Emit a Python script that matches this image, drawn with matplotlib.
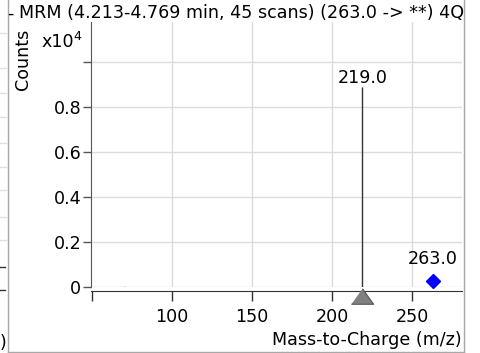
import matplotlib
matplotlib.use('Agg')
import matplotlib.pyplot as plt
from matplotlib.lines import Line2D
from matplotlib.patches import Rectangle

# spectrum data (counts in units of 1e4)
peak_mz = [70.0, 219.0]
peak_counts = [0.006, 0.89]
peak_labels = ['', '219.0']
precursor_mz = 263.0
precursor_counts = 0.027
precursor_label = '263.0'
product_mz = 219.0

title = '- MRM (4.213-4.769 min, 45 scans) (263.0 -> **) 4Q4'
x_ticks = [50, 100, 150, 200, 250]
x_tick_labels = ['', '100', '150', '200', '250']
y_ticks = [0, 0.2, 0.4, 0.6, 0.8, 1.0]
y_tick_labels = ['0', '0.2', '0.4', '0.6', '0.8', '']

W, H = 480, 353
FS = 12.6
plt.rcParams['font.family'] = ['DejaVu Sans']


def fx(px):
    return px / W


def fy(py):
    return 1 - py / H


fig = plt.figure(figsize=(W / 100, H / 100), dpi=100)
ax = fig.add_axes([fx(91), fy(287), fx(462 - 91), (287 - 22) / H])
ax.set_xlim(49.4, 281.2)
ax.set_ylim(0, 1.178)

# grid
for x in x_ticks[1:]:
    ax.axvline(x, color='#dcdcdc', lw=1, zorder=0)
for y in y_ticks:
    ax.axhline(y, color='#dcdcdc', lw=1, zorder=0)

# sticks
for mz, c, lab in zip(peak_mz, peak_counts, peak_labels):
    col = '#333333' if lab else '#aaaaaa'
    ax.vlines(mz, 0, c, color=col, lw=1, zorder=3)
    if lab:
        ax.annotate(lab, (mz, c), xytext=(0, 0), textcoords='offset points',
                    ha='center', va='bottom', fontsize=FS, color='black')

# precursor diamond
ax.plot(precursor_mz, precursor_counts, marker='D', markersize=7.5, color='#0000ff',
        ls='none', zorder=4, clip_on=False)
ax.annotate(precursor_label, (precursor_mz, precursor_counts), xytext=(0, 9),
            textcoords='offset points', ha='center', va='bottom', fontsize=FS)

# product triangle below axis
tri = [(-1, -0.7), (1, -0.7), (0, 0.7)]
ax.plot(product_mz, -0.038, marker=tri, markersize=16, markerfacecolor='#808080',
        markeredgecolor='#555555', markeredgewidth=0.8, ls='none', clip_on=False, zorder=5)

# axes styling
for s in ['top', 'right']:
    ax.spines[s].set_visible(False)
ax.spines['left'].set_color('#555555')
ax.spines['bottom'].set_color('#333333')
ax.spines['bottom'].set_position(('outward', 3))
ax.set_xticks(x_ticks)
ax.set_xticklabels(x_tick_labels)
ax.set_yticks(y_ticks)
ax.set_yticklabels(y_tick_labels)
ax.tick_params(axis='x', length=7, width=1, pad=5, labelsize=FS, color='#333333')
ax.tick_params(axis='y', length=6, width=1, pad=1, labelsize=FS, color='#555555')
ax.patch.set_alpha(0)

# labels
dash, rest = title.split(' ', 1)
fig.text(fx(7.5), fy(18.5), dash, fontsize=FS, ha='left', va='baseline', zorder=12)
fig.text(fx(19), fy(18.5), rest, fontsize=FS, ha='left', va='baseline')
fig.text(fx(23), fy(59), 'Counts', fontsize=FS, rotation=90, ha='center', va='center')
t10 = fig.text(fx(42), fy(47), 'x10', fontsize=FS, ha='left', va='baseline')
ax.annotate('4', xy=(1, 0), xycoords=t10, xytext=(-1, 5.5), textcoords='offset points',
            fontsize=FS * 0.72, ha='left', va='bottom', annotation_clip=False)
fig.text(fx(462), fy(340), 'Mass-to-Charge (m/z)', fontsize=FS, ha='right', va='center')

# clip the title at the right frame
fig.add_artist(Rectangle((fx(463.5), 0), 1 - fx(463.5), 1, transform=fig.transFigure,
                         facecolor='white', edgecolor='none', zorder=10))

# panel frame
frame = '#a8a8a8'
fig.add_artist(Line2D([fx(7.5), fx(7.5)], [fy(0), fy(352)], color=frame, lw=1, zorder=11))
fig.add_artist(Line2D([fx(463.5), fx(463.5)], [fy(0), fy(352)], color=frame, lw=1, zorder=11))
fig.add_artist(Line2D([fx(7.5), fx(463.5)], [fy(351.5), fy(351.5)], color=frame, lw=1, zorder=11))

# bits of the neighbouring panel on the left
for y in [33, 68, 93, 117, 143, 167, 190, 217, 240]:
    fig.add_artist(Line2D([0, fx(6)], [fy(y), fy(y)], color='#e0e0e0', lw=1))
for y in [267, 290]:
    fig.add_artist(Line2D([0, fx(5)], [fy(y), fy(y)], color='#333333', lw=1))
fig.text(fx(6), fy(343), ')', fontsize=FS, ha='right', va='center')

fig.savefig('out.png', dpi=100)
